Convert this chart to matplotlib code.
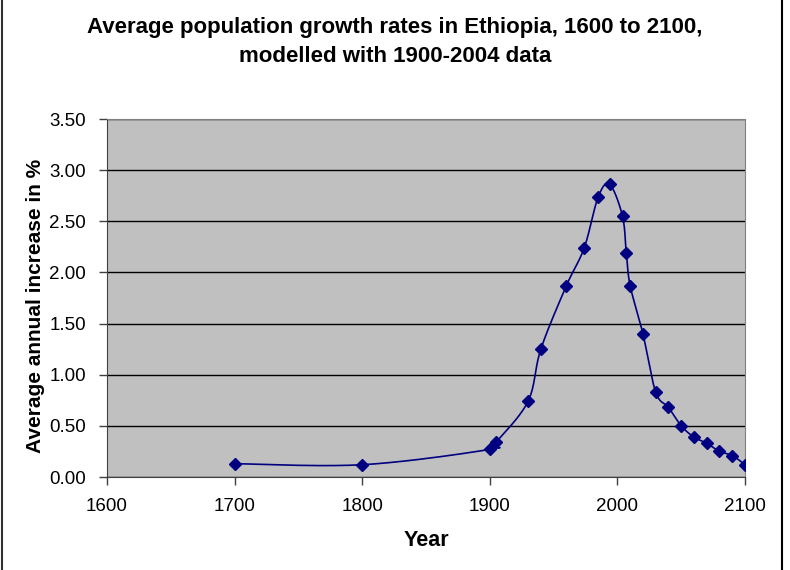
import numpy as np
import matplotlib
matplotlib.use("Agg")
import matplotlib.pyplot as plt
from matplotlib.lines import Line2D

plt.rcParams['font.family'] = ['Liberation Sans', 'DejaVu Sans']

# values
years = [1700, 1800, 1900, 1905, 1930, 1940, 1960, 1974, 1985, 1994,
         2004, 2007, 2010, 2020, 2030, 2040, 2050, 2060, 2070, 2080, 2090, 2100]
growth = [0.13, 0.12, 0.27, 0.34, 0.74, 1.25, 1.87, 2.24, 2.74, 2.86,
          2.55, 2.19, 1.87, 1.40, 0.83, 0.68, 0.50, 0.39, 0.33, 0.25, 0.21, 0.12]
x_ticks = [1600, 1700, 1800, 1900, 2000, 2100]
y_ticks = [0.0, 0.5, 1.0, 1.5, 2.0, 2.5, 3.0, 3.5]


def smooth(xs, ys, steps=20):
    # catmull-rom through the points, like the "smoothed line" option in excel
    p = np.column_stack([xs, ys]).astype(float)
    p = np.vstack([p[0], p, p[-1]])
    out = []
    for i in range(1, len(p) - 2):
        p0, p1, p2, p3 = p[i - 1], p[i], p[i + 1], p[i + 2]
        t = np.linspace(0, 1, steps, endpoint=False)[:, None]
        seg = 0.5 * ((2 * p1) + (-p0 + p2) * t
                     + (2 * p0 - 5 * p1 + 4 * p2 - p3) * t ** 2
                     + (-p0 + 3 * p1 - 3 * p2 + p3) * t ** 3)
        out.append(seg)
    out.append(p[-2][None, :])
    out = np.vstack(out)
    return out[:, 0], out[:, 1]


fig = plt.figure(figsize=(7.9, 5.7), dpi=100)
ax = fig.add_axes([107 / 790, 1 - 477 / 570, 638 / 790, 358 / 570])
ax.set_facecolor('#c0c0c0')

sx, sy = smooth(years, growth)
ax.plot(sx, sy, color='#000080', lw=1.2, zorder=3)
ax.plot(years, growth, ls='none', marker='D', ms=6.5, color='#000080', zorder=4)

ax.set_xlim(1600, 2100)
ax.set_ylim(0, 3.5)
ax.set_xticks(x_ticks)
ax.set_yticks(y_ticks)
ax.set_yticklabels(['%.2f' % v for v in y_ticks])
ax.tick_params(labelsize=13.5, direction='out', length=6, width=1, color='#404040')
ax.tick_params(axis='x', pad=9)
ax.tick_params(axis='y', pad=9)
ax.yaxis.grid(True, color='black', lw=1)
ax.set_axisbelow(True)
for s in ax.spines.values():
    s.set_color('#808080')
ax.spines['left'].set_color('#404040')
ax.spines['bottom'].set_color('#404040')

# axis titles placed where the reference has them
fig.text(426 / 790, 1 - 540 / 570, 'Year', ha='center', va='center',
         fontsize=15.5, fontweight='bold')
fig.text(36 / 790, 1 - 306 / 570, 'Average annual increase in %', ha='center', va='center',
         rotation=90, fontsize=15, fontweight='bold')

fig.text(0.5, 1 - 32.5 / 570, 'Average population growth rates in Ethiopia, 1600 to 2100,',
         ha='center', va='baseline', fontsize=16, fontweight='bold')
fig.text(0.5, 1 - 62.5 / 570, 'modelled with 1900-2004 data',
         ha='center', va='baseline', fontsize=16, fontweight='bold')

# chart frame
fig.add_artist(Line2D([1.5 / 790, 1.5 / 790], [0, 1], color='#303030', lw=1.5))
fig.add_artist(Line2D([782 / 790, 782 / 790], [0, 1], color='black', lw=1.5))

fig.savefig('out.png', dpi=100)
